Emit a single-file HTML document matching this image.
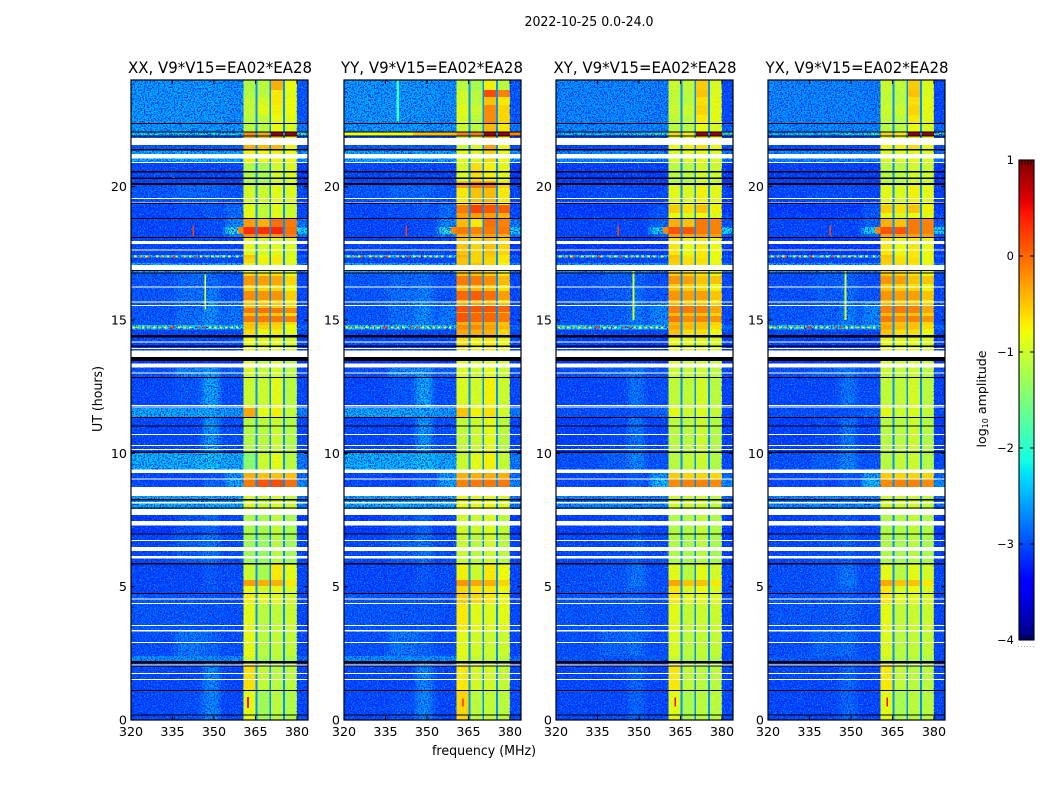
<!DOCTYPE html>
<html lang="en">
<head>
<meta charset="utf-8">
<title>2022-10-25 amplitude waterfall</title>
<style>
html,body{margin:0;padding:0;background:#fff;}
svg{display:block;}
text{font-family:"DejaVu Sans","Liberation Sans",sans-serif;fill:#000;}
</style>
</head>
<body>
<svg id="figure" xmlns="http://www.w3.org/2000/svg" width="1050" height="800" viewBox="0 0 1050 800">
  <defs>
    <filter id="speckleDark" x="0" y="0" width="1" height="1" color-interpolation-filters="sRGB">
      <feTurbulence type="fractalNoise" baseFrequency="0.7" numOctaves="2" seed="4"/>
      <feColorMatrix values="0 0 0 0 0  0 0 0 0 0.1  0 0 0 0 0.95  6 0 0 0 -2.8"/>
    </filter>
    <filter id="speckleLight" x="0" y="0" width="1" height="1" color-interpolation-filters="sRGB">
      <feTurbulence type="fractalNoise" baseFrequency="0.7" numOctaves="2" seed="11"/>
      <feColorMatrix values="0 0 0 0 0  0 0 0 0 0.72  0 0 0 0 1  0 6 0 0 -3.4"/>
    </filter>
    <filter id="softX" filterUnits="userSpaceOnUse" x="0" y="0" width="1050" height="800" color-interpolation-filters="sRGB">
      <feGaussianBlur stdDeviation="3 0"/>
    </filter>
  </defs>
  <rect width="1050" height="800" fill="#fff"/>
  <text x="589" y="26" font-size="13" text-anchor="middle" textLength="129" lengthAdjust="spacingAndGlyphs">2022-10-25 0.0-24.0</text>
  <text x="220" y="73" font-size="16" text-anchor="middle" textLength="184" lengthAdjust="spacingAndGlyphs">XX, V9*V15=EA02*EA28</text>
  <text x="432" y="73" font-size="16" text-anchor="middle" textLength="182" lengthAdjust="spacingAndGlyphs">YY, V9*V15=EA02*EA28</text>
  <text x="645" y="73" font-size="16" text-anchor="middle" textLength="183" lengthAdjust="spacingAndGlyphs">XY, V9*V15=EA02*EA28</text>
  <text x="857" y="73" font-size="16" text-anchor="middle" textLength="183" lengthAdjust="spacingAndGlyphs">YX, V9*V15=EA02*EA28</text>
  <text x="484" y="755" font-size="13" text-anchor="middle" textLength="104" lengthAdjust="spacingAndGlyphs">frequency (MHz)</text>
  <text x="0" y="0" font-size="13" text-anchor="middle" transform="translate(102,399) rotate(-90)" textLength="66" lengthAdjust="spacingAndGlyphs">UT (hours)</text>
  <text x="0" y="0" font-size="12.6" text-anchor="middle" transform="translate(986,399) rotate(-90)">log<tspan font-size="8" dy="2">10</tspan><tspan dy="-2"> amplitude</tspan></text>
  <g id="panels"></g>
  <g id="colorbar"></g>
</svg>
<script>
// Time rows: top edge of each row, UT hours (the last row ends at 0).
const rowTops = [24,23.63,23.36,23.06,22.69,22.39,22.05,21.9,21.38,20.89,20.06,19.31,19.01,18.83,18.49,18.23,
  18.08,17.44,17.34,17.14,16.76,16.2,15.68,14.81,14.64,14.33,13.88,13.2,12.83,11.7,11.36,10.01,
  9.38,9.04,8.74,8.4,7.91,7.69,6.98,5.85,5.25,5.03,4.73,4.35,3.38,2.4,2.21,1.13];

// log10 amplitude outside the receiver bands: [320-336, 336-346, 346-352, 354-361, gaps and 380-384]
const offBandParallel = [
[-2.5,-2.5,-2.5,-2.55,-2.9],[-2.5,-2.5,-2.5,-2.55,-2.9],[-2.5,-2.5,-2.5,-2.55,-2.9],[-2.5,-2.5,-2.5,-2.55,-2.9],
[-2.5,-2.5,-2.5,-2.55,-2.9],[-2.5,-2.5,-2.5,-2.5,-2.7],[-2.2,-2.2,-2.2,-2.2,-1.9],[-2.9,-2.9,-2.9,-2.9,-3],
[-2.4,-2.4,-2.4,-2.4,-2.5],[-3,-3,-3,-3,-3.1],[-2.9,-2.8,-2.8,-2.9,-3],[-3,-2.95,-2.9,-2.75,-3],
[-3,-2.95,-2.9,-2.75,-3],[-3,-3,-2.95,-2.6,-2.7],[-3,-3,-2.95,-2.0,-2.2],[-3,-3,-2.95,-2.6,-2.7],
[-3,-3,-3,-3,-3.1],[-2.2,-2.2,-2.2,-2.3,-2.8],[-3,-3,-3,-3,-3],[-2.4,-2.4,-2.4,-2.4,-2.6],
[-2.9,-2.8,-2.75,-2.9,-3],[-2.9,-2.75,-2.65,-2.9,-3],[-2.9,-2.75,-2.55,-2.7,-3],[-2.2,-2.2,-2.2,-2.3,-2.8],
[-3,-3,-3,-3,-3],[-3,-3,-3,-3,-3],[-3.1,-3.1,-3.1,-3.1,-3.1],[-2.95,-2.6,-2.5,-2.85,-3],
[-3,-2.9,-2.4,-2.95,-3],[-2.4,-2.4,-2.4,-2.5,-2.7],[-3,-3,-2.5,-2.95,-3],[-2.35,-2.35,-2.25,-2.4,-2.7],
[-3,-3,-2.9,-2.5,-2.8],[-3,-3,-2.8,-2.4,-2.6],[-3,-3,-3,-3,-3],[-2.4,-2.4,-2.4,-2.4,-2.7],
[-3,-3,-3,-3,-3],[-3.1,-2.95,-2.8,-3,-3.1],[-3,-2.85,-2.7,-2.95,-3],[-3,-3,-2.9,-2.95,-3],
[-3,-3,-2.9,-2.95,-3],[-3,-3,-2.9,-2.95,-3],[-2.9,-2.9,-2.9,-2.95,-3],[-2.9,-2.9,-2.9,-2.95,-3],
[-2.95,-2.7,-2.8,-2.95,-3],[-2.55,-2.55,-2.55,-2.55,-2.8],[-3,-3,-2.6,-3,-3],[-3,-2.95,-2.6,-3,-3]];

const offBandCross = [
[-2.6,-2.6,-2.6,-2.65,-3],[-2.6,-2.6,-2.6,-2.65,-3],[-2.6,-2.6,-2.6,-2.65,-3],[-2.6,-2.6,-2.6,-2.65,-3],
[-2.6,-2.6,-2.6,-2.65,-3],[-2.6,-2.6,-2.6,-2.6,-2.8],[-2.3,-2.3,-2.2,-2.0,-1.8],[-3,-3,-3,-3,-3],
[-2.6,-2.6,-2.6,-2.6,-2.7],[-3.05,-3.05,-3.05,-3.05,-3.1],[-3,-2.95,-2.95,-3,-3.05],[-3.1,-3.1,-3.1,-2.9,-3.1],
[-3.05,-3.05,-3,-2.9,-3],[-3,-3,-3,-2.8,-2.9],[-3,-3,-3,-2.2,-2.2],[-3,-3,-3,-2.8,-2.9],
[-3.1,-3.1,-3.1,-3.1,-3.1],[-2.2,-2.2,-2.2,-2.3,-2.8],[-3,-3,-3,-3,-3.05],[-2.5,-2.5,-2.5,-2.5,-2.7],
[-2.95,-2.85,-2.8,-2.95,-3],[-2.95,-2.85,-2.75,-2.9,-3],[-2.9,-2.85,-2.65,-2.6,-3],[-2.2,-2.2,-2.2,-2.3,-2.8],
[-3,-3,-3,-3,-3],[-3.05,-3.05,-3.05,-3.05,-3.05],[-3.1,-3.1,-3.1,-3.1,-3.1],[-2.95,-2.8,-2.7,-2.9,-3],
[-3,-3,-2.7,-2.95,-3.05],[-2.95,-2.95,-2.9,-2.8,-3],[-3.05,-3,-2.7,-3,-3.05],[-2.95,-2.85,-2.6,-2.9,-3],
[-3,-3,-2.9,-2.5,-2.8],[-3,-3,-2.85,-2.3,-2.6],[-3,-3,-3,-3,-3],[-2.6,-2.6,-2.6,-2.6,-2.8],
[-3,-3,-3,-3,-3],[-3.05,-3,-2.9,-3,-3.1],[-3,-2.95,-2.85,-2.95,-3.05],[-2.95,-2.9,-2.7,-2.95,-3],
[-2.95,-2.9,-2.65,-2.95,-3],[-2.95,-2.9,-2.8,-2.95,-3],[-2.9,-2.9,-2.85,-2.95,-3],[-2.9,-2.9,-2.85,-2.95,-3],
[-2.95,-2.8,-2.75,-2.95,-3],[-2.9,-2.9,-2.9,-2.9,-3],[-3,-3,-2.8,-3,-3],[-3,-3,-2.8,-3,-3]];

// log10 amplitude in the four receiver bands, one row per entry of rowTops.
const bandsXX = [
[-1.15,-1.1,-.4,-.8],[-1.15,-1.1,-.7,-.85],[-1.05,-.95,-.7,-.8],[-1.05,-.85,-.75,-.8],[-1.1,-1.05,-.8,-.85],[-1.1,-1.1,-.8,-.9],
[-.2,-.35,.9,.9],[-.4,-.45,-.45,-.75],[-.75,-.8,-.75,-.8],[-1.15,-1.2,-.95,-.9],[-.95,-1,-.85,-.9],[-.85,-1.05,-.85,-1],
[-.85,-1.05,-.85,-1],[-.3,-.4,-.05,-.1],[.3,.3,.35,-.05],[-.2,-.3,-.25,-.15],[-.85,-.95,-.85,-.9],[-.5,-.8,-.75,-.9],
[-.6,-.75,-.7,-.85],[-.9,-.9,-.85,-.95],[-.6,-.65,-.65,-.85],[-.55,-.6,-.6,-.8],[-.5,-.5,-.55,-.65],[-.5,-.6,-.6,-.8],
[-.65,-.8,-.75,-.85],[-.8,-.85,-.85,-.95],[-.85,-1,-.85,-1.1],[-.95,-1.05,-.95,-1.1],[-1,-1,-.85,-1.1],[-.35,-.85,-.75,-1.05],
[-1.15,-1.1,-1,-1.15],[-1.4,-1,-.85,-1.1],[-.4,-.5,-.5,-.5],[-.1,.1,.15,-.05],[-.9,-1,-.9,-1],[-.9,-1,-.9,-1],
[-1,-1,-1,-1],[-1.2,-1.2,-1.05,-1.2],[-1.25,-1.3,-1.1,-1.25],[-1,-1.2,-.7,-.85],[-.3,-.4,-.4,-.7],[-.8,-.95,-.85,-.9],
[-.75,-.85,-.85,-.95],[-.85,-1.1,-1.05,-1],[-.85,-1.1,-1.05,-1.05],[-.95,-1.2,-1.1,-1.2],[-.65,-1.05,-1.1,-1.1],[-.85,-1.25,-1.1,-1.15]];

const bandsYY = [
[-1.1,-1.2,-.75,-1.1],[-.95,-1.1,.15,-.15],[-.95,-1.1,-.5,-.7],[-.85,-1,-.2,-.6],[-.9,-1.1,-.2,-.6],[-1,-1.1,-.45,-.7],
[-.1,-.1,.9,.9],[-1,-.9,-.35,-.8],[-.85,-.9,-.6,-.8],[-.9,-.65,-.75,-.85],[-.7,-.5,-.45,-.7],[-.1,.2,.1,.05],
[-.3,-.3,-.3,-.4],[-.45,-.7,-.05,-.15],[-.1,-.15,-.1,-.1],[-.4,-.4,-.3,-.4],[-.5,-.6,-.5,-.6],[-.4,-.6,-.55,-.7],
[-.5,-.6,-.6,-.7],[-.5,-.5,-.6,-.8],[-.5,-.5,-.55,-.7],[-.45,-.45,-.5,-.65],[-.4,-.35,-.4,-.5],[-.2,-.2,-.3,-.45],
[-.35,-.4,-.4,-.6],[-.65,-.75,-.7,-.8],[-.8,-.9,-.8,-.9],[-.9,-1,-.85,-1],[-.9,-.95,-.75,-1],[-.5,-.75,-.65,-.95],
[-1.05,-1,-.85,-1.1],[-1,-.85,-.75,-1.05],[-.4,-.4,-.4,-.4],[-.15,-.1,-.1,-.1],[-.8,-.9,-.8,-.9],[-.8,-.85,-.8,-.9],
[-.85,-.9,-.85,-.95],[-.95,-1,-.9,-1.05],[-1,-1.1,-.95,-1.1],[-.75,-1,-.7,-.8],[-.25,-.35,-.4,-.6],[-.6,-.7,-.7,-.8],
[-.55,-.6,-.7,-.8],[-.7,-.85,-.9,-.85],[-.85,-.95,-1,-1],[-.9,-1.05,-1.05,-1.1],[-.7,-.95,-.95,-1.05],[-.6,-1.1,-1.05,-1.1]];

const bandsCross = [
[-1,-1.05,-.55,-.9],[-1.05,-1.1,-.5,-.9],[-1.05,-1.1,-.65,-.85],[-1,-1,-.6,-.85],[-1.05,-1.1,-.7,-.85],[-1.1,-1.1,-.8,-.9],
[-.6,-.7,.9,.9],[-.8,-.75,-.65,-.8],[-.9,-.9,-.85,-.9],[-1.1,-1.1,-.95,-1],[-.85,-.9,-.75,-.85],[-.55,-.65,-.5,-.75],
[-.8,-.9,-.8,-.9],[-.4,-.5,-.1,-.15],[.1,.1,-.1,-.15],[-.3,-.35,-.3,-.3],[-.7,-.8,-.7,-.8],[-.5,-.7,-.7,-.8],
[-.55,-.65,-.65,-.8],[-.6,-.65,-.7,-.85],[-.55,-.6,-.65,-.8],[-.5,-.55,-.6,-.75],[-.45,-.5,-.5,-.6],[-.35,-.45,-.5,-.65],
[-.5,-.65,-.65,-.8],[-.8,-.85,-.85,-.9],[-.85,-.95,-.9,-1],[-1,-1.05,-1,-1.1],[-1.05,-1.05,-.95,-1.1],[-.85,-1,-.9,-1.05],
[-1.1,-1.1,-1,-1.15],[-1.1,-1.05,-1,-1.15],[-.55,-.6,-.6,-.6],[-.2,-.15,-.15,-.2],[-.9,-1,-.9,-1],[-.95,-1,-.95,-1.05],
[-1,-1,-1,-1.05],[-1.15,-1.15,-1.05,-1.15],[-1.15,-1.2,-1.1,-1.2],[-.85,-1.1,-.85,-.95],[-.35,-.5,-.5,-.7],[-.7,-.9,-.8,-.9],
[-.7,-.85,-.85,-.9],[-.85,-1.05,-1,-1],[-.9,-1.1,-1.05,-1.05],[-1,-1.15,-1.1,-1.15],[-.7,-1.05,-1.1,-1.1],[-.85,-1.2,-1.1,-1.1]];

// Brighter stripes inside the bands: [utLow, utHigh, band1, band2, band3, band4]
const stripesXX = [[16.31,16.65,-.25,-.3,-.35,-.6],[15.75,16.09,-.2,-.25,-.25,-.55],[15.26,15.45,-.1,-.05,-.1,-.2],[14.93,15.15,-.1,-.1,-.1,-.15]];
const stripesYY = [[16.31,16.65,-.1,-.1,-.2,-.45],[15.75,16.09,0,.05,-.05,-.3],[15.3,15.56,.1,.1,.1,0],[14.93,15.26,.1,0,0,-.1],[19.95,20.2,-.3,-.1,-.1,-.6]];
const stripesCross = [[16.35,16.65,-.25,-.3,-.5,-.5],[15.75,16.09,-.25,-.3,-.3,-.5],[15.26,15.56,-.15,-.1,-.15,-.35],[14.93,15.15,-.1,-.2,-.15,-.25]];

// Localised features: [panel, fLow, fHigh, utLow, utHigh, log10 amplitude]
const features = [
["YY",320,345,21.92,22.05,-.8],["YY",345,360.6,21.92,22.05,-.45],["YY",380,384,21.92,22.05,-.15],
["YY",339,339.8,22.45,24,-1.9],
["ALL",358.7,360.6,18.25,18.49,-.15],
["XX",362,362.7,.45,.87,.45],["YY",362.6,363.3,.5,.8,.1],["XY",362.8,363.4,.5,.85,.5],["YX",362.8,363.4,.5,.85,.5],
["XX",346.5,347.1,15.4,16.7,-.9],["XY",347.7,348.3,15,17,-1],["YX",347.7,348.3,15,17,-1],
["ALL",342.2,342.8,18.15,18.55,.2],
["XX",335,335.8,20.28,20.36,-1]
];

// Narrow interference dashes across two rows: [frequency, log10 amplitude]
const rfiUpper = [[321,-.7],[323,-.3],[325,-.9],[326,.1],[329,-.7],[331,-.4],[333,-.8],[335,.2],[336,-.7],[339,-.5],[341,-.9],[343,.2],[345,-.8],[347,-.4],[349,-.9],[351,-.6],[353,-.8],[355,-.9],[358,-.7]];
const rfiLower = [[320.5,-.8],[322,-.5],[324,-.7],[326,-.4],[328,-.8],[330,-.5],[332,-.7],[334,.3],[335,.4],[337,-.7],[339,-.6],[341,-.8],[344,.2],[346,.3],[348,-.7],[350,-.8],[352,-.6],[354,-.8],[356,-.7],[358,-.8]];
const rfiUpperUt = 17.39;
const rfiLowerUt = 14.72;

// Flagged (blank) and zero-amplitude (black) time ranges: [utLow, utHigh]
const flaggedRanges = [[21.57,21.83],[21.05,21.23],[20.89,20.93],[19.54,19.58],[19.38,19.41],[17.85,17.97],[17.61,17.65],[16.88,17.06],
[16.22,16.26],[15.66,15.7],[15.53,15.56],[14.16,14.2],[13.91,13.95],[13.62,13.85],[13.21,13.36],[12.99,13.03],[11.77,11.81],[11.71,11.75],
[10.69,10.73],[10.27,10.31],[10.13,10.16],[9.26,9.39],[9.03,9.06],[8.4,8.74],[8.11,8.18],[7.69,7.91],[7.29,7.46],[6.71,6.75],[6.34,6.49],
[6.06,6.15],[4.52,4.55],[4.35,4.39],[3.52,3.56],[3.31,3.38],[2.89,2.93],[2.06,2.09],[1.72,1.76],[1.5,1.54]];
const zeroRanges = [[22.36,22.39],[22.03,22.07],[21.88,21.92],[21.36,21.41],[20.54,20.58],[20.29,20.34],[20.06,20.13],[19.35,19.38],
[18.79,18.83],[18.08,18.12],[16.83,16.87],[16.76,16.79],[14.39,14.43],[14.34,14.38],[13.98,14.04],[13.47,13.61],[12.82,12.86],[11.33,11.37],
[11.01,11.04],[10.02,10.06],[8.24,8.28],[7.93,7.97],[6.97,7],[5.84,5.88],[4.73,4.77],[2.11,2.21],[2.01,2.05],[1.09,1.13],[.16,.2]];

const panelNames = ["XX","YY","XY","YX"];
const panelLefts = [131,344,556,768];
const freqTicks = [320,335,350,365,380];
const utTicks = [0,5,10,15,20];
const colorbarTicks = [1,0,-1,-2,-3,-4];
const gapLevel = -2.65;

const NS = "http://www.w3.org/2000/svg";
const PANEL_W = 177, PANEL_TOP = 80, PANEL_H = 640;
const F_MIN = 320, F_MAX = 384, UT_MAX = 24;
const V_MIN = -4, V_MAX = 1;
const BAND_RANGES = [[360.6,365],[365.7,370],[370.6,375],[375.7,380]];

function xScale(left, f){ return left + (f - F_MIN) * PANEL_W / (F_MAX - F_MIN); }
function yScale(ut){ return PANEL_TOP + PANEL_H - ut * PANEL_H / UT_MAX; }

// Piecewise-linear jet colour map, as used by the original figure.
const jetRed = [[0,0],[.35,0],[.66,1],[.89,1],[1,.5]];
const jetGreen = [[0,0],[.125,0],[.375,1],[.64,1],[.91,0],[1,0]];
const jetBlue = [[0,.5],[.11,1],[.34,1],[.65,0],[1,0]];
function lerpStops(stops, t){
  for (let i = 1; i < stops.length; i++){
    if (t <= stops[i][0]){
      const a = stops[i - 1], b = stops[i];
      return a[1] + (b[1] - a[1]) * (t - a[0]) / (b[0] - a[0]);
    }
  }
  return stops[stops.length - 1][1];
}
function jet(v){
  const t = Math.min(1, Math.max(0, (v - V_MIN) / (V_MAX - V_MIN)));
  return "rgb(" + Math.round(255 * lerpStops(jetRed, t)) + "," + Math.round(255 * lerpStops(jetGreen, t)) + "," + Math.round(255 * lerpStops(jetBlue, t)) + ")";
}
function make(tag, attrs, parent){
  const el = document.createElementNS(NS, tag);
  for (const k in attrs) el.setAttribute(k, attrs[k]);
  parent.appendChild(el);
  return el;
}
function bandOf(name){ return name === "XX" ? bandsXX : name === "YY" ? bandsYY : bandsCross; }
function offOf(name){ return name === "XY" || name === "YX" ? offBandCross : offBandParallel; }
function stripesOf(name){ return name === "XX" ? stripesXX : name === "YY" ? stripesYY : stripesCross; }

const panelsRoot = document.getElementById("panels");

panelNames.forEach(function(name, p){
  const left = panelLefts[p];
  const lname = name.toLowerCase();
  const g = make("g", {}, panelsRoot);
  
  
  const off = offOf(name), bands = bandOf(name);

  const baseLayer = make("g", {}, g);
  
  
  const softLayer = make("g", {filter: "url(#softX)"}, g);
  
  
  const bandLayer = make("g", {}, g);
  
  

  rowTops.forEach(function(top, r){
    const bottom = r + 1 < rowTops.length ? rowTops[r + 1] : 0;
    const o = off[r], b = bands[r];
    const layers = [
      [baseLayer,320,361,o[0]],
      [softLayer,336,346,o[1]],[softLayer,346,352,o[2]],[softLayer,354,362,o[3]],
      [bandLayer,360.6,365,b[0]],[bandLayer,365,365.7,gapLevel],[bandLayer,365.7,370,b[1]],[bandLayer,370,370.6,gapLevel],
      [bandLayer,370.6,375,b[2]],[bandLayer,375,375.7,gapLevel],[bandLayer,375.7,380,b[3]],[bandLayer,380,384,o[4]]
    ];
    layers.forEach(function(c){
      const cell = make("rect", {
        x: xScale(left, c[1]), y: yScale(top),
        width: xScale(left, c[2]) - xScale(left, c[1]),
        height: yScale(bottom) - yScale(top),
        fill: jet(c[3]), "shape-rendering": "crispEdges"
      }, c[0]);
      
      
    });
  });

  stripesOf(name).forEach(function(s){
    BAND_RANGES.forEach(function(br, i){
      const stripe = make("rect", {
        x: xScale(left, br[0]), y: yScale(s[1]),
        width: xScale(left, br[1]) - xScale(left, br[0]),
        height: yScale(s[0]) - yScale(s[1]),
        fill: jet(s[2 + i]), "shape-rendering": "crispEdges"
      }, bandLayer);
      
      
    });
  });

  [[320,360.6,.95],[380,384,.9],[360.6,380,.05]].forEach(function(z){
    const bx = xScale(left, z[0]), bw = xScale(left, z[1]) - bx;
    const dark = make("rect", {x: bx, y: PANEL_TOP, width: bw, height: PANEL_H, filter: "url(#speckleDark)", opacity: z[2]}, g);
    
    
    const light = make("rect", {x: bx, y: PANEL_TOP, width: bw, height: PANEL_H, filter: "url(#speckleLight)", opacity: z[2] * .8}, g);
    
    
  });

  features.forEach(function(f){
    if (f[0] !== "ALL" && f[0] !== name) return;
    const feat = make("rect", {
      x: xScale(left, f[1]), y: yScale(f[4]),
      width: xScale(left, f[2]) - xScale(left, f[1]),
      height: yScale(f[3]) - yScale(f[4]),
      fill: jet(f[5]), "shape-rendering": "crispEdges"
    }, g);
    
    
  });

  [[rfiUpper, rfiUpperUt],[rfiLower, rfiLowerUt]].forEach(function(row){
    row[0].forEach(function(d){
      const dash = make("rect", {
        x: xScale(left, d[0]), y: yScale(row[1]) - 1,
        width: xScale(left, d[0] + .9) - xScale(left, d[0]), height: 2,
        fill: jet(d[1]), "shape-rendering": "crispEdges"
      }, g);
      
      
    });
  });

  flaggedRanges.forEach(function(rng){
    const flag = make("rect", {
      x: left, y: yScale(rng[1]), width: PANEL_W,
      height: Math.max(1, yScale(rng[0]) - yScale(rng[1])), fill: "#fff", "shape-rendering": "crispEdges"
    }, g);
    
    
  });
  zeroRanges.forEach(function(rng){
    const zero = make("rect", {
      x: left, y: yScale(rng[1]), width: PANEL_W,
      height: Math.max(1, yScale(rng[0]) - yScale(rng[1])), fill: "#000", "shape-rendering": "crispEdges"
    }, g);
    
    
  });

  const frame = make("rect", {x: left, y: PANEL_TOP, width: PANEL_W, height: PANEL_H, fill: "none", stroke: "#000", "stroke-width": 1.2}, g);
  
  

  freqTicks.forEach(function(t){
    const x = xScale(left, t);
    const tb = make("line", {x1: x, x2: x, y1: PANEL_TOP + PANEL_H, y2: PANEL_TOP + PANEL_H - 4, stroke: "#000"}, g);
    
    
    const tt = make("line", {x1: x, x2: x, y1: PANEL_TOP, y2: PANEL_TOP + 4, stroke: "#000"}, g);
    
    
    const lab = make("text", {x: x, y: 736, "font-size": 12.7, "text-anchor": "middle"}, g);
    
    
    lab.textContent = String(t);
  });
  utTicks.forEach(function(t){
    const y = yScale(t);
    const tl = make("line", {x1: left, x2: left + 4, y1: y, y2: y, stroke: "#000"}, g);
    
    
    const tr = make("line", {x1: left + PANEL_W, x2: left + PANEL_W - 4, y1: y, y2: y, stroke: "#000"}, g);
    
    
    const lab = make("text", {x: left - 4, y: y + 4.5, "font-size": 12.7, "text-anchor": "end"}, g);
    
    
    lab.textContent = String(t);
  });
});

// Colour bar
const cb = document.getElementById("colorbar");
const CB_X = 1019, CB_W = 15, CB_TOP = 160, CB_H = 480;
function cbY(v){ return CB_TOP + (V_MAX - v) * CB_H / (V_MAX - V_MIN); }
for (let py = 0; py < CB_H; py++){
  const v = V_MAX - (py + .5) * (V_MAX - V_MIN) / CB_H;
  const strip = make("rect", {x: CB_X, y: CB_TOP + py, width: CB_W, height: 1, fill: jet(v), "shape-rendering": "crispEdges"}, cb);
  
  
}
const cbFrame = make("rect", {x: CB_X, y: CB_TOP, width: CB_W, height: CB_H, fill: "none", stroke: "#000", "stroke-width": 1.1}, cb);


colorbarTicks.forEach(function(v){
  const y = cbY(v);
  const tl = make("line", {x1: CB_X, x2: CB_X + 4, y1: y, y2: y, stroke: "#000"}, cb);
  
  
  const tr = make("line", {x1: CB_X + CB_W, x2: CB_X + CB_W - 4, y1: y, y2: y, stroke: "#000"}, cb);
  
  
  const lab = make("text", {x: CB_X - 5, y: y + 4, "font-size": 11.5, "text-anchor": "end"}, cb);
  
  
  lab.textContent = String(v).replace("-", "\u2212");
});
[CB_TOP, CB_TOP + CB_H - 5].forEach(function(y){
  for (let i = 1; i < 5; i++){
    const m = make("line", {x1: CB_X + i * 3, x2: CB_X + i * 3, y1: y, y2: y + 5, stroke: "#000", "stroke-width": .7}, cb);
    
    
  }
});
const dots = make("line", {x1: 1018, x2: 1035, y1: 646.5, y2: 646.5, stroke: "#aaa", "stroke-dasharray": "1 2"}, cb);


</script>
</body>
</html>
